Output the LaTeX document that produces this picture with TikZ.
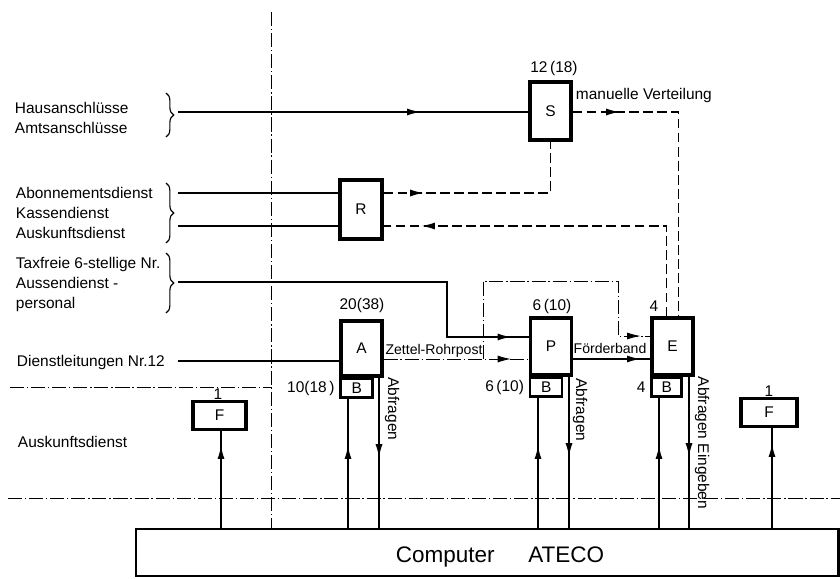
\documentclass[tikz,border=0pt]{standalone}
\usepackage{fontspec}
\setmainfont{Liberation Sans}
\usetikzlibrary{calc,arrows.meta,decorations.markings,decorations.pathreplacing}

\tikzset{
  blk/.style={draw, line width=2.2pt, inner sep=0pt, minimum width=1.025cm, minimum height=1.425cm},
  bblk/.style={draw, line width=1.8pt, inner sep=0pt, minimum width=0.8cm, minimum height=0.47cm, anchor=north west},
  fblk/.style={draw, line width=2.2pt, inner sep=0pt, minimum width=1.35cm, minimum height=0.68cm},
  ln/.style={line width=1.1pt},
  dsh/.style={line width=1.1pt, dash pattern=on 7pt off 3pt},
  dshdot/.style={line width=0.7pt, dash pattern=on 10pt off 2pt on 1pt off 2pt},
  arrat/.style={postaction={decorate,decoration={markings,mark=at position #1 with {\arrow[solid]{Latex[length=9.5pt,width=5pt]}}}}},
  brc/.style={line width=0.8pt, decorate, decoration={brace, amplitude=5.5pt}},
  lbl/.style={inner sep=1pt, font=\fontsize{10pt}{12pt}\selectfont},
}

\begin{document}
\begin{tikzpicture}[x=0.025cm, y=-0.025cm, font=\fontsize{11pt}{13pt}\selectfont]
\useasboundingbox (0,0) rectangle (840,578);

% Trennlinien
\draw[dshdot] (271,12) -- (271,529);
\draw[dshdot] (10,387) -- (271,387);
\draw[dshdot] (8,498) -- (840,498);

% Dienste links
\node[right] (haus) at (10,108) {Hausanschlüsse};
\node[right] (amts) at (10,127.5) {Amtsanschlüsse};
\node[right] (abo) at (11,193) {Abonnementsdienst};
\node[right] (kasse) at (11,213) {Kassendienst};
\node[right] (ausk) at (11,233) {Auskunftsdienst};
\node[right] (taxf) at (11,264) {Taxfreie 6-stellige Nr.};
\node[right] (aussen) at (11,283) {Aussendienst -};
\node[right] (pers) at (11,304) {personal};
\node[right] (dienst) at (12,362) {Dienstleitungen Nr.12};
\node[right] (auskb) at (13,442) {Auskunftsdienst};

\draw[brc] (166,93) -- (166,137);
\draw[brc] (166,183) -- (166,243);
\draw[brc] (166,253) -- (166,313);
\coordinate (h1) at (178,112);
\coordinate (h2a) at (178,193);
\coordinate (h2b) at (178,226);
\coordinate (h3) at (178,282);
\coordinate (h4) at (178,361);

% Plaetze
\node[blk, minimum height=1.45cm] (S) at (550.5,111) {S};
\node[blk, minimum height=1.475cm, minimum width=1.05cm] (R) at (361,209.5) {R};
\node[blk, minimum height=1.375cm] (A) at (361.5,348.5) {A};
\node[blk] (P) at (551,346.5) {P};
\node[blk] (E) at (672.5,346.5) {E};
\node[bblk] (AB) at (A.south west) {B};
\node[bblk] (PB) at (P.south west) {B};
\node[bblk, minimum width=0.75cm] (EB) at (E.south west) {B};
\node[fblk, minimum width=1.325cm] (F1) at (219.5,415.5) {F};
\node[fblk, minimum width=1.4cm] (F2) at (769,412.5) {F};
\node[draw, line width=2pt, minimum width=17.55cm, minimum height=1.175cm] (comp) at (487,552.5) {};
\node (ateco) at (500,557) {\fontsize{16pt}{18pt}\selectfont Computer\hspace{24pt}ATECO};

% Zahlen
\node (nS) at (554,68) {12\,(18)};
\node (nA) at (362,305) {20(38)};
\node[left] (nAB) at (AB.west) {10(18\,)};
\node (nP) at (552,306) {6\,(10)};
\node[left] (nPB) at (PB.west) {6\,(10)};
\node (nE) at (654,306) {4};
\node[left] (nEB) at (EB.west) {4};
\node (nF1) at (218,394) {1};
\node (nF2) at (769,391) {1};

% Verbindungen oben
\draw[ln, arrat=-2.7cm] (h1) -- (S.west |- h1);
\draw[ln] (h2a) -- (R.west |- h2a);
\draw[ln] (h2b) -- (R.west |- h2b);
\draw[dsh, arrat=1cm] (R.east |- h2a) -| (S.south);
\draw[dsh, arrat=-0.95cm] ($(E.north)+(-6,0)$) |- (R.east |- h2b);
\draw[dsh, arrat=1.175cm] (S.east |- h1) -| ($(E.north)+(6,0)$);
\node[right] (verteil) at (571,96) {manuelle Verteilung};

% Verbindungen Mitte
\draw[ln, arrat=-0.45cm] (h3) -- (447,282) |- (P.west |- 0,337);
\draw[ln] (h4) -- (A.west |- h4);
\draw[dshdot, arrat=-0.45cm] (A.east |- 0,359) -- (P.west |- 0,359);
\coordinate (zz) at (483,359);
\draw[dshdot, arrat=-0.25cm] (zz) |- (618,281) |- (E.west |- 0,336);
\draw[ln, arrat=-0.25cm] (P.east |- 0,359) -- (E.west |- 0,359);
\node[lbl] (zettel) at (434,351) {Zettel-Rohrpost};
\node[lbl] (foerder) at (610,348) {Förderband};

% Verbindungen Computer
\draw[ln, arrat=2.05cm] (comp.north -| 221,0) -- (F1.south -| 221,0);
\draw[ln, arrat=2.1cm] (comp.north -| 772,0) -- (F2.south -| 772,0);
\draw[ln, arrat=2.05cm] (comp.north -| 348,0) -- (AB.south -| 348,0);
\draw[ln, arrat=2cm] (A.south -| 379,0) -- (comp.north -| 379,0);
\draw[ln, arrat=2.05cm] (comp.north -| 538,0) -- (PB.south -| 538,0);
\draw[ln, arrat=2cm] (P.south -| 569,0) -- (comp.north -| 569,0);
\draw[ln, arrat=2.05cm] (comp.north -| 659,0) -- (EB.south -| 659,0);
\draw[ln, arrat=2cm] (E.south -| 689,0) -- (comp.north -| 689,0);
\node[rotate=-90] (abfA) at (392,409) {Abfragen};
\node[rotate=-90] (abfP) at (580,410) {Abfragen};
\node[rotate=-90] (abfE) at (702,443) {Abfragen Eingeben};
\end{tikzpicture}
\end{document}
